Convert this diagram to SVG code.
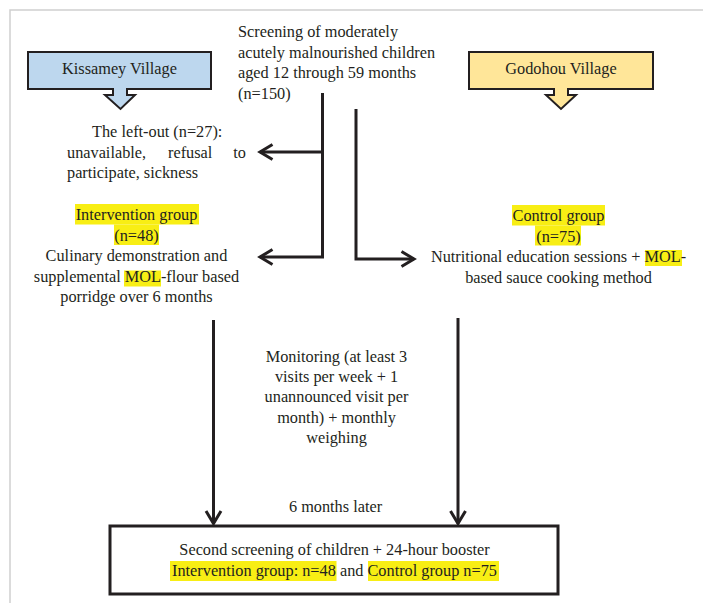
<svg xmlns="http://www.w3.org/2000/svg" width="703" height="603" viewBox="0 0 703 603">
<defs>
<style>
text{font-family:"Liberation Serif","Times New Roman",serif;font-size:16.3px;fill:#231f20}
.c{text-anchor:middle}
.hl{fill:#f8ee14}
.conn{fill:none;stroke:#231f20;stroke-width:3}
.call{stroke:#231f20;stroke-width:2;stroke-linejoin:miter}
</style>
<marker id="arr" markerUnits="userSpaceOnUse" viewBox="0 0 20 20" markerWidth="20" markerHeight="20" refX="14" refY="9" orient="auto">
<path d="M1.5,1.5 L14,9 L1.5,16.5" fill="none" stroke="#231f20" stroke-width="3"/>
</marker>
</defs>
<rect width="703" height="603" fill="#fff"/>
<path d="M10,603 V10 H703" fill="none" stroke="#d0d0d0" stroke-width="1.5"/>

<g id="screening">
<text x="238" y="37">Screening of moderately</text>
<text x="238" y="57.5">acutely malnourished children</text>
<text x="238" y="78">aged 12 through 59 months</text>
<text x="238" y="98.5">(n=150)</text>
</g>

<g id="kissamey">
<path class="call" fill="#bdd7ee" d="M28,52 H211 V89 H127 V95 H135 L120.5,109 L105,95 H113 V89 H28 Z"/>
<text class="c" x="119.5" y="74">Kissamey Village</text>
</g>

<g id="godohou">
<path class="call" fill="#ffe699" d="M469,52 H653 V89 H568 V95 H576 L561,109 L546,95 H554 V89 H469 Z"/>
<text class="c" x="561" y="74">Godohou Village</text>
</g>

<g id="leftout">
<text x="92" y="137">The left-out (n=27):</text>
<text x="67" y="157.5">unavailable,</text>
<text x="168" y="157.5">refusal</text>
<text x="246" y="157.5" text-anchor="end">to</text>
<text x="67" y="178">participate, sickness</text>
</g>

<g id="intervention">
<rect class="hl" x="75" y="204" width="124" height="20.5"/>
<rect class="hl" x="114" y="224.5" width="45" height="20.5"/>
<rect class="hl" x="124" y="270.5" width="37" height="16"/>
<text class="c" x="136.5" y="220">Intervention group</text>
<text class="c" x="136.5" y="240.5">(n=48)</text>
<text class="c" x="136.5" y="261">Culinary demonstration and</text>
<text class="c" x="136.5" y="281.5">supplemental MOL-flour based</text>
<text class="c" x="136.5" y="302">porridge over 6 months</text>
</g>

<g id="control">
<rect class="hl" x="512" y="205" width="93" height="20.5"/>
<rect class="hl" x="535" y="225.5" width="46" height="20"/>
<rect class="hl" x="645" y="250" width="37" height="16"/>
<text class="c" x="558.5" y="221">Control group</text>
<text class="c" x="558.5" y="241.5">(n=75)</text>
<text class="c" x="558.5" y="262">Nutritional education sessions + MOL-</text>
<text class="c" x="558.5" y="283">based sauce cooking method</text>
</g>

<g id="monitoring">
<text class="c" x="336.5" y="361.5">Monitoring (at least 3</text>
<text class="c" x="336.5" y="382">visits per week + 1</text>
<text class="c" x="336.5" y="402">unannounced visit per</text>
<text class="c" x="336.5" y="422.5">month) + monthly</text>
<text class="c" x="336.5" y="442.5">weighing</text>
</g>

<g id="later">
<text class="c" x="335.5" y="511.5">6 months later</text>
</g>

<g id="second">
<rect x="110" y="526" width="448" height="68" fill="#fff" stroke="#231f20" stroke-width="3"/>
<rect class="hl" x="170" y="561" width="166.5" height="20"/>
<rect class="hl" x="368" y="561" width="131" height="20"/>
<text class="c" x="334.5" y="554.5">Second screening of children + 24-hour booster</text>
<text class="c" x="334.5" y="575.5">Intervention group: n=48 and Control group n=75</text>
</g>

<g id="connectors">
<path class="conn" d="M322.5,93 V257 H260" marker-end="url(#arr)"/>
<path class="conn" d="M322.5,152 H260" marker-end="url(#arr)"/>
<path class="conn" d="M356,109 V259 H414" marker-end="url(#arr)"/>
<path class="conn" d="M213.5,320 V523.5" marker-end="url(#arr)"/>
<path class="conn" d="M458,318 V523.5" marker-end="url(#arr)"/>
</g>
</svg>
